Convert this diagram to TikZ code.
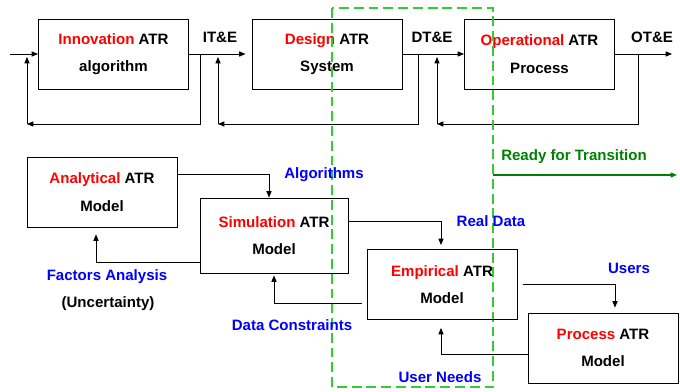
\documentclass[tikz,border=0pt]{standalone}
\usepackage{fontspec}
\setmainfont{Liberation Sans}
\usepackage{tikz}
\usetikzlibrary{arrows.meta, positioning, calc}
\definecolor{atrred}{RGB}{255,0,0}
\definecolor{atrblue}{RGB}{0,0,255}
\definecolor{atrgreen}{RGB}{0,128,0}
\definecolor{atrdash}{RGB}{51,204,51}
\newcommand{\atrfont}{\fontsize{10.7}{19.5}\selectfont\bfseries}

\begin{document}
\begin{tikzpicture}[x=0.025cm, y=-0.025cm,
  atrbox/.style={draw, line width=0.6pt, align=center, inner sep=0pt,
    minimum width=3.75cm, minimum height=1.75cm, font=\atrfont},
  flow/.style={line width=0.6pt, -{Triangle[length=4.5pt,width=3.6pt]}},
  lbl/.style={font=\atrfont, inner sep=1pt},
  bluelbl/.style={lbl, text=atrblue}]
\useasboundingbox (0,0) rectangle (680,392);

% ---- development chain ----
\node[atrbox] (inno) at (113.5,54) {\textcolor{atrred}{Innovation} ATR\\algorithm};
\node[atrbox] (design) at (327,54) {\textcolor{atrred}{Design} ATR\\System};
\node[atrbox] (oper) at (539.5,54) {\textcolor{atrred}{Operational} ATR\\Process};

\node[lbl] (ite) at (220,37) {IT\&E};
\node[lbl] (dte) at (432,37) {DT\&E};
\node[lbl] (ote) at (652,37) {OT\&E};

\coordinate (in) at (10,54);
\coordinate (out) at (672,54);
\draw[flow] (in) -- (inno.west);
\draw[flow] (inno.east) -- ([xshift=-0.15cm]design.west);
\draw[flow] (design.east) -- (oper.west);
\draw[flow] (oper.east) -- (out);

% feedback loops
\foreach \tap/\ret in {200/27, 418/218, 638/437}{
  \coordinate (tap) at (\tap,54);
  \coordinate (ret) at (\ret,124);
  \coordinate (rise) at (\ret,57);
  \draw[flow] (tap) |- (ret);
  \draw[flow] (ret) -- (rise);
}

% ---- transition boundary ----
\draw[atrdash, line width=1.4pt, dash pattern=on 7pt off 3.5pt]
  (332,8) rectangle (493,387);
\node[lbl, text=atrgreen] (ready) at (574,157) {Ready for Transition};
\coordinate (rdy) at (493,175);
\coordinate (rdyend) at (677,175);
\draw[flow, atrgreen, line width=0.8pt] (rdy) -- (rdyend);

% ---- model chain ----
\node[atrbox] (ana) at (102,192) {\textcolor{atrred}{Analytical} ATR\\Model};
\node[atrbox, minimum width=3.7cm, minimum height=1.875cm] (sim) at (274,235.5)
  {\textcolor{atrred}{Simulation} ATR\\Model};
\node[atrbox] (emp) at (442,284.5) {\textcolor{atrred}{Empirical} ATR\\Model};
\node[atrbox] (proc) at (603,348) {\textcolor{atrred}{Process} ATR\\Model};

\draw[flow] ($(ana.north east)!0.25!(ana.south east)$) -| ($(sim.north)+(-5,0)$);
\draw[flow] ($(sim.north west)!0.85!(sim.south west)$) -| ($(ana.south)+(-6,7)$);
\draw[flow] ($(sim.north east)!0.32!(sim.south east)$) -| ($(emp.north)+(-1,-4)$);
\draw[flow] ($(emp.north west)!0.77!(emp.south west)+(-5,0)$) -| ($(sim.south)+(0,2)$);
\draw[flow] ($(emp.east)+(6,0)$) -| ($(proc.north)+(12,-5)$);
\draw[flow] ($(proc.north west)!0.59!(proc.south west)$) -| ($(emp.south)+(-1,8)$);

\node[bluelbl] (algo) at (324,175) {Algorithms};
\node[bluelbl] (real) at (491,221) {Real Data};
\node[bluelbl] (users) at (629,268) {Users};
\node[bluelbl] (factors) at (107,277) {Factors Analysis};
\node[lbl] (uncert) at (108,304) {(Uncertainty)};
\node[bluelbl] (constr) at (292,325) {Data Constraints};
\node[bluelbl] (needs) at (440,377) {User Needs};
\end{tikzpicture}
\end{document}
